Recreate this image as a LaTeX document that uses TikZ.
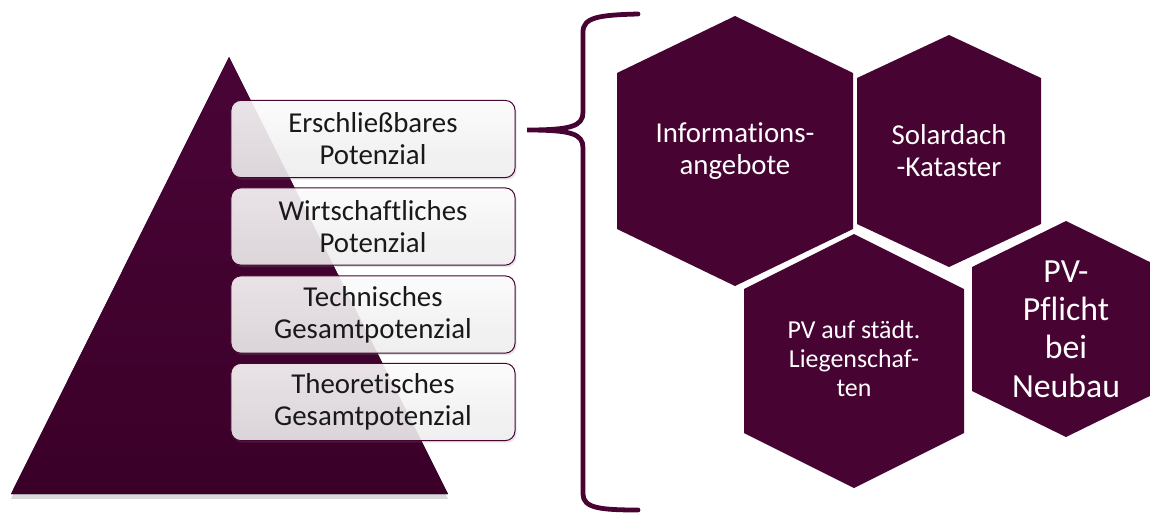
\documentclass[tikz,border=0pt]{standalone}
\usepackage{fontspec}
\setmainfont{Carlito}[Ligatures=CommonOff]
\usepackage{tikz}
\usetikzlibrary{shadows, calc}
\definecolor{aubergine}{RGB}{71, 4, 51}
\definecolor{pyrtop}{RGB}{74, 4, 55}
\definecolor{pyrbot}{RGB}{58, 0, 40}
\newcommand{\hexagon}[5]{%
  \fill[hexfill] (#1,#2-#4) -- (#1+#3,#2-#5) -- (#1+#3,#2+#5) -- (#1,#2+#4)
    -- (#1-#3,#2+#5) -- (#1-#3,#2-#5) -- cycle;}

\begin{document}
\begin{tikzpicture}[
  x=0.025cm, y=-0.025cm,
  levelbox/.style={draw=aubergine, line width=0.7pt, rounded corners=7pt,
    top color=white, bottom color=black!6, fill opacity=0.88, text opacity=1,
    minimum width=7.1cm, minimum height=1.93cm, align=center, text=black!90,
    font=\fontsize{20.5}{22.7}\selectfont,
    drop shadow={opacity=0.2, shadow xshift=1.2pt, shadow yshift=-1.5pt}},
  hexfill/.style={fill=aubergine},
  hextext/.style={text=white, align=center, inner sep=0pt},
  brace/.style={draw=aubergine, line width=3.4pt, line cap=round}
]
  \useasboundingbox (0,0) rectangle (1150,514);

  % pyramid
  \fill[top color=pyrtop, bottom color=pyrbot,
    drop shadow={opacity=0.3, shadow xshift=0pt, shadow yshift=-3.5pt}]
    (229,57) -- (448,494) -- (11,494) -- cycle;

  % levels
  \node[levelbox] (erschl) at (373,139) {Erschließbares\\Potenzial};
  \node[levelbox] (wirt)   at (373,226.5) {Wirtschaftliches\\Potenzial};
  \node[levelbox] (tech)   at (373,314.5) {Technisches\\Gesamtpotenzial};
  \node[levelbox] (theo)   at (373,402) {Theoretisches\\Gesamtpotenzial};

  % brace
  \coordinate (bracetip) at (527,130);
  \draw[brace] (638,14) .. controls (600,15) and (583,17) .. (583,32) -- (583,112)
    .. controls (583,126) and (572,130) .. (bracetip)
    .. controls (572,130) and (583,134) .. (583,148) -- (583,494)
    .. controls (583,508) and (600,510) .. (638,510);

  % measures
  \hexagon{735}{151}{118}{135}{78}
  \hexagon{949}{151}{92}{116}{73}
  \hexagon{854}{361}{110}{127}{72}
  \hexagon{1066}{329}{94}{108}{62}

  \node[hextext, font=\fontsize{20.5}{22.7}\selectfont] (info) at (735,151)
    {Informations-\\angebote};
  \node[hextext, font=\fontsize{20.5}{22.7}\selectfont] (kataster) at (949,151)
    {Solardach\\-Kataster};
  \node[hextext, font=\fontsize{18.4}{20.6}\selectfont] (liegen) at (854,359)
    {PV auf städt.\\Liegenschaf-\\ten};
  \node[hextext, font=\fontsize{24}{27.3}\selectfont] (pflicht) at (1066,329)
    {PV-\\Pflicht\\bei\\Neubau};
\end{tikzpicture}
\end{document}
